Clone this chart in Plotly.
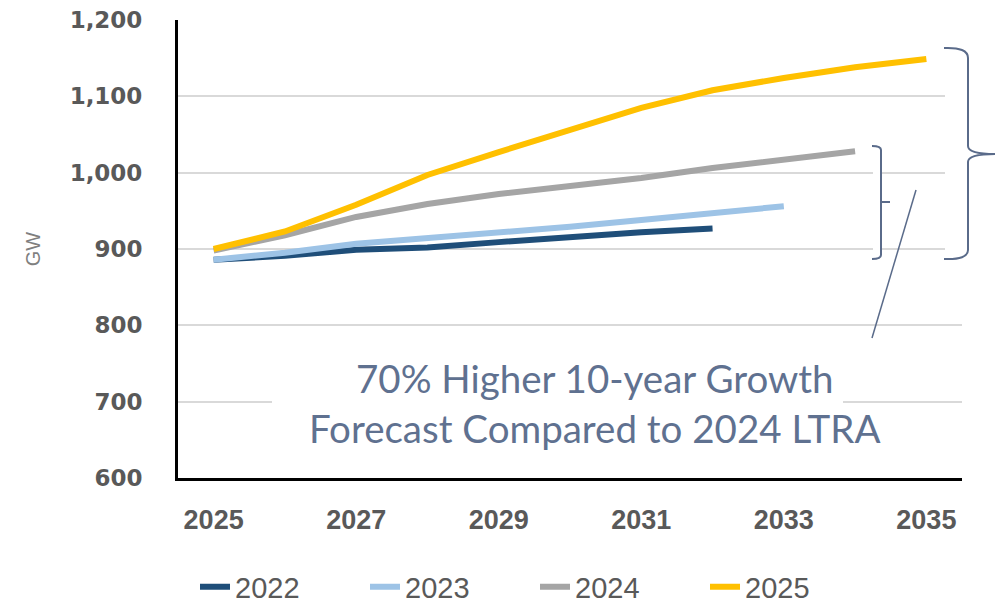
import plotly.graph_objects as go

years = list(range(2025, 2036))
s2022 = [886, 891, 899, 902, 909, 916, 922, 927]
s2023 = [886, 895, 907, 914, 921, 929, 938, 947, 956]
s2024 = [898, 918, 942, 959, 972, 982, 993, 1006, 1017, 1028]
s2025 = [900, 923, 958, 997, 1027, 1056, 1085, 1108, 1124, 1138, 1149]
series_names = ["2022", "2023", "2024", "2025"]
series_vals = [s2022, s2023, s2024, s2025]
colors = ["#1F4E79", "#9DC3E6", "#A5A5A5", "#FFC000"]
x_ticks = [2025, 2027, 2029, 2031, 2033, 2035]
y_ticks = [600, 700, 800, 900, 1000, 1100, 1200]
note_text = "70% Higher 10-year Growth<br>Forecast Compared to 2024 LTRA"

W, H = 999, 604
L, R, T, B = 178, 37, 20, 126
PW, PH = W - L - R, H - T - B


def X(px):
    return (px - L) / PW


def Y(py):
    return (H - B - py) / PH


fig = go.Figure()
for name, vals, c in zip(series_names, series_vals, colors):
    fig.add_trace(go.Scatter(x=years[:len(vals)], y=vals, name=name, mode="lines",
                             line=dict(color=c, width=6)))

shapes = []
# white boxes that interrupt the gridlines (no data lines pass through them)
for (x0, y0, x1, y1) in [(873, 144, 880, 261), (945, 44, 966, 262), (272, 345, 843, 462)]:
    shapes.append(dict(type="rect", xref="paper", yref="paper", x0=X(x0), x1=X(x1), y0=Y(y1), y1=Y(y0),
                       fillcolor="white", line=dict(width=0), layer="above"))

bc = "#5A6B8A"
big = (f"M {X(944)},{Y(48)} Q {X(968)},{Y(47)} {X(968)},{Y(58)} L {X(968)},{Y(146)} "
       f"Q {X(968)},{Y(154)} {X(995)},{Y(154)} Q {X(968)},{Y(154)} {X(968)},{Y(162)} "
       f"L {X(968)},{Y(250)} Q {X(968)},{Y(260)} {X(944)},{Y(259)}")
small = (f"M {X(872)},{Y(146)} Q {X(881)},{Y(146)} {X(881)},{Y(150)} L {X(881)},{Y(255)} "
         f"Q {X(881)},{Y(259)} {X(872)},{Y(259)} M {X(881)},{Y(202)} L {X(890)},{Y(202)}")
for path in (big, small):
    shapes.append(dict(type="path", xref="paper", yref="paper", path=path,
                       line=dict(color=bc, width=2), layer="above"))
shapes.append(dict(type="line", xref="paper", yref="paper", x0=X(916), y0=Y(190), x1=X(872), y1=Y(338),
                   line=dict(color=bc, width=1.5), layer="above"))

fig.update_layout(
    width=W, height=H,
    margin=dict(l=L, r=R, t=T, b=B, autoexpand=False),
    paper_bgcolor="white", plot_bgcolor="white",
    font=dict(family="Liberation Sans", color="#595959"),
    shapes=shapes,
    annotations=[dict(xref="paper", yref="paper", x=X(594), y=Y(403), text=note_text, showarrow=False,
                      font=dict(family="Lato", size=38.5, color="#5F7190"), align="center",
                      xanchor="center", yanchor="middle")],
    showlegend=True,
    legend=dict(orientation="h", x=X(195), xanchor="left", y=Y(587), yanchor="middle",
                font=dict(family="Liberation Sans", size=29, color="#595959"),
                entrywidth=125, entrywidthmode="pixels", bgcolor="rgba(0,0,0,0)", tracegroupgap=0),
    xaxis=dict(range=[2024.5, 2035.5], tickvals=x_ticks, ticktext=[str(v) for v in x_ticks],
               showgrid=False, zeroline=False, showline=True, linecolor="black", linewidth=3,
               tickfont=dict(family="Liberation Sans", size=27, color="#595959", weight="bold"),
               ticks="", ticklabelstandoff=16),
    yaxis=dict(range=[600, 1200], tickvals=y_ticks, ticktext=[f"{v:,}" for v in y_ticks],
               showgrid=True, gridcolor="#D9D9D9", gridwidth=2, zeroline=False,
               showline=True, linecolor="black", linewidth=3,
               tickfont=dict(family="DejaVu Sans", size=23, color="#595959", weight="bold"),
               ticks="", ticklabelstandoff=28,
               title=dict(text="GW", font=dict(family="Liberation Sans", size=20, color="#7F7F7F"), standoff=24)),
)

fig.write_html("out.html", config={"displayModeBar": False},
               post_script="document.body.style.margin='0';document.body.style.overflow='hidden';")
